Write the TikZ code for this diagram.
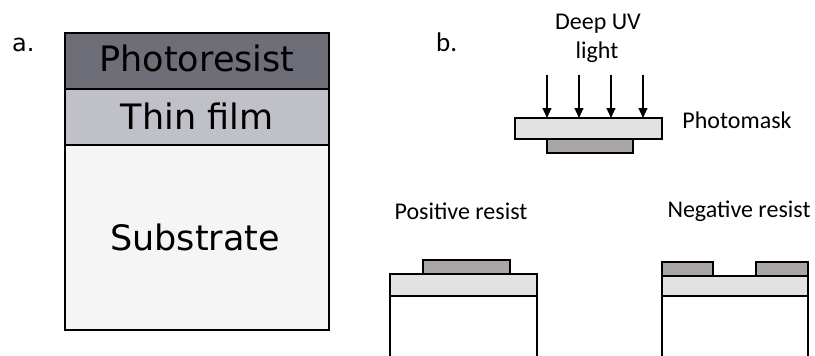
\documentclass[tikz,border=0pt]{standalone}
\usepackage{fontspec}
\setmainfont{DejaVu Sans}
\newfontfamily\calfont{Carlito}
\usetikzlibrary{arrows.meta}
\definecolor{prc}{HTML}{6E6E78}
\definecolor{tfc}{HTML}{C0C0C8}
\definecolor{sbc}{HTML}{F5F5F5}
\definecolor{mplate}{HTML}{E2E2E2}
\definecolor{resc}{HTML}{ABA6A6}
\tikzset{
  layer/.style={draw=black, line width=2pt},
  thin/.style={draw=black, line width=1.2pt},
  bigtxt/.style={font=\fontsize{35}{40}\selectfont, inner sep=0pt},
  caltxt/.style={font=\calfont\fontsize{24}{28}\selectfont, inner sep=0pt},
  uv/.style={line width=1.2pt, -{Triangle[width=9pt,length=10pt]}}
}
\begin{document}
\begin{tikzpicture}[x=1pt,y=-1pt]
\useasboundingbox (0,0) rectangle (815,356);
% part a
\draw[layer, fill=sbc] (65,145) rectangle (329,330);
\draw[layer, fill=tfc] (65,89) rectangle (329,145);
\draw[layer, fill=prc] (65,33) rectangle (329,89);
\node[bigtxt] (pr) at (197,58) {Photoresist};
\node[bigtxt] (tf) at (197,116) {Thin film};
\node[bigtxt] (sb) at (195,237) {Substrate};
\node[font=\fontsize{24}{28}\selectfont, inner sep=0pt, anchor=base west] (la) at (12,52) {a.};
% part b
\node[font=\calfont\fontsize{27}{30}\selectfont, inner sep=0pt, anchor=base west] (lb) at (436,52) {b.};
\node[caltxt] (uv1) at (598,24) {Deep UV};
\node[caltxt] (uv2) at (597,52) {light};
\draw[thin, fill=resc] (547,139) rectangle (633,153);
\draw[thin, fill=mplate] (515,118) rectangle (662,139);
\node[caltxt] (pm) at (737,120) {Photomask};
\foreach \i/\xx in {1/547,2/579,3/611,4/643}{
  \coordinate (s\i) at (\xx,75);
  \coordinate (e\i) at (\xx,118);
  \draw[uv] (s\i) -- (e\i);
}
\node[caltxt] (pos) at (461,211) {Positive resist};
\node[caltxt] (neg) at (739,211) {Negative resist};
% positive
\draw[thin, fill=resc] (423,260) rectangle (510,274);
\draw[thin, fill=mplate] (390,274) rectangle (537,296);
\draw[thin] (390,296) -- (390,357);
\draw[thin] (537,296) -- (537,357);
% negative
\draw[thin, fill=resc] (662,262) rectangle (713,276);
\draw[thin, fill=resc] (756,262) rectangle (808,276);
\draw[thin, fill=mplate] (662,276) rectangle (808,296);
\draw[line width=2pt] (756,276) -- (808,276);
\draw[thin] (662,296) -- (662,357);
\draw[thin] (808,296) -- (808,357);
\end{tikzpicture}
\end{document}
